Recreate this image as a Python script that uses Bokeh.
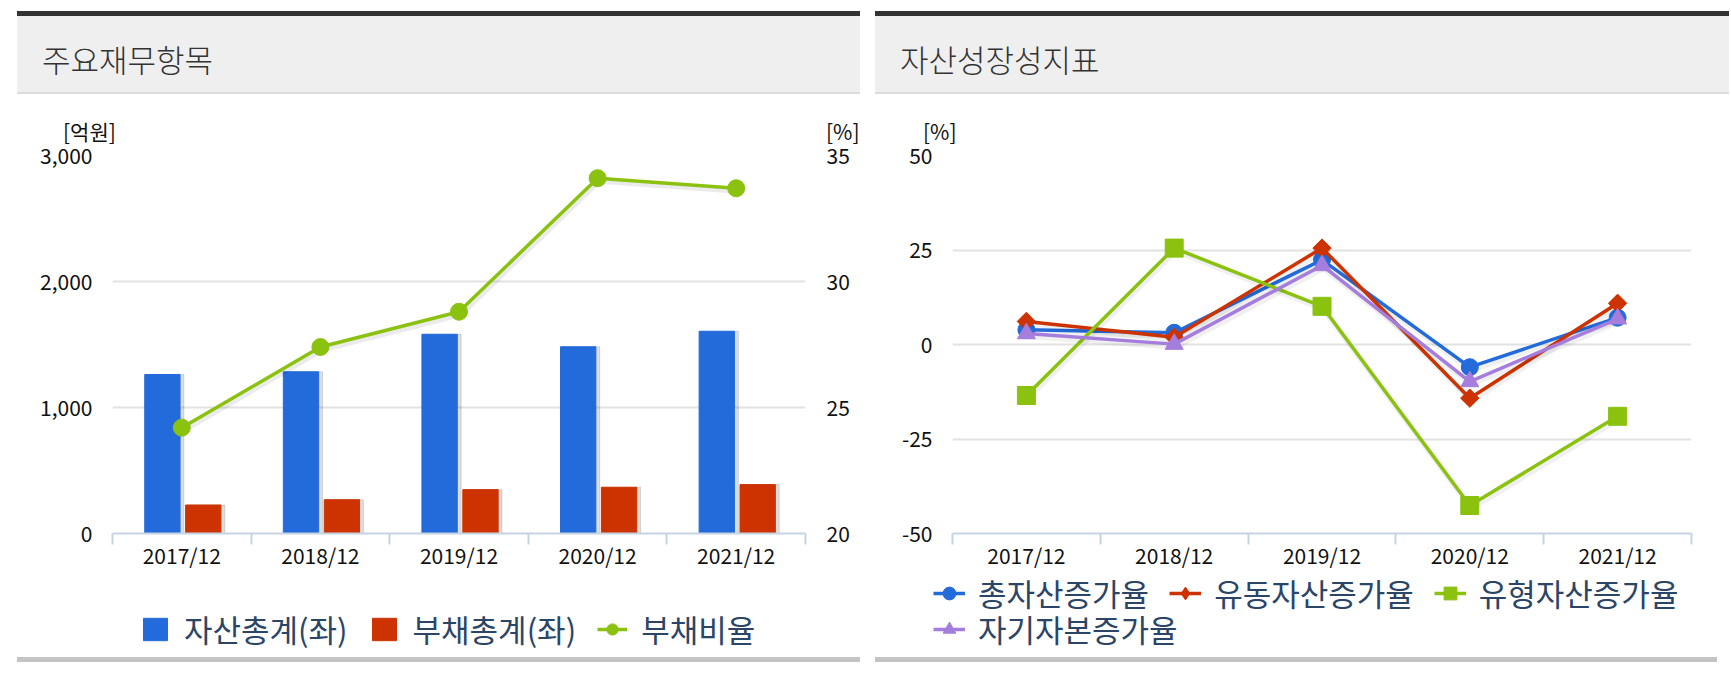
import numpy as np
from bokeh.plotting import figure
from bokeh.models import (Range1d, LinearAxis, FixedTicker, Legend, LegendItem,
                          Div, NumeralTickFormatter)
from bokeh.layouts import row, column
from bokeh.embed import file_html
from bokeh.resources import INLINE

# ---------------- data ----------------
categories = ["2017/12", "2018/12", "2019/12", "2020/12", "2021/12"]

total_assets = [1262, 1283, 1581, 1482, 1605]        # 자산총계(좌) 억원
total_liabilities = [226, 268, 348, 367, 388]        # 부채총계(좌) 억원
debt_ratio = [24.2, 27.4, 28.8, 34.1, 33.7]          # 부채비율 %

left_ticks = [0, 1000, 2000, 3000]
right_ticks = [20, 25, 30, 35]

growth_total_assets = [3.9, 3.1, 22.4, -6.0, 7.1]          # 총자산증가율
growth_current_assets = [6.1, 1.9, 25.5, -14.2, 10.9]      # 유동자산증가율
growth_tangible_assets = [-13.5, 25.5, 10.1, -42.6, -19.0]  # 유형자산증가율
growth_equity = [2.9, 0.1, 20.9, -9.8, 6.8]                # 자기자본증가율
growth_ticks = [-50, -25, 0, 25, 50]

FONT = "Noto Sans CJK KR"
BLUE, RED, GREEN, PURPLE = "#236bdb", "#cc3300", "#8bc20f", "#a57ddc"
LEG_COLOR = "#2b4566"
n = len(categories)
xc = np.arange(n) + 0.5
OUT = [-100]   # legend-only renderers sit outside the visible range
UNIT_H = 52
OVERLAP = 12


def style_common(p, yticks):
    p.outline_line_color = None
    p.border_fill_alpha = 0
    p.xgrid.visible = False
    p.ygrid.ticker = FixedTicker(ticks=yticks)
    p.ygrid.grid_line_color = "#e2e2e2"
    p.ygrid.grid_line_width = 2
    xa = p.xaxis[0]
    xa.ticker = FixedTicker(ticks=list(xc), minor_ticks=list(range(n + 1)))
    xa.major_label_overrides = {float(x): c for x, c in zip(xc, categories)}
    xa.major_tick_line_color = None
    xa.major_tick_out = 0
    xa.major_tick_in = 0
    xa.minor_tick_line_color = "#c5d3e2"
    xa.minor_tick_line_width = 2
    xa.minor_tick_out = 11
    xa.minor_tick_in = 0
    xa.axis_line_color = "#c5d3e2"
    xa.axis_line_width = 2
    xa.major_label_text_font = FONT
    xa.major_label_text_font_size = "21px"
    xa.major_label_text_color = "#111111"
    xa.major_label_standoff = -5
    ya = p.yaxis[0]
    ya.ticker = FixedTicker(ticks=yticks)
    ya.formatter = NumeralTickFormatter(format="0,0")
    ya.axis_line_color = None
    ya.major_tick_line_color = None
    ya.minor_tick_line_color = None
    ya.major_tick_out = 0
    ya.major_tick_in = 0
    ya.major_label_text_font = FONT
    ya.major_label_text_font_size = "21px"
    ya.major_label_text_color = "#111111"
    ya.major_label_standoff = 20


def make_legend(items, loc, gw, gh, standoff, spacing):
    return Legend(items=items, location=loc, orientation="horizontal",
                  glyph_width=gw, glyph_height=gh, label_standoff=standoff, spacing=spacing,
                  padding=0, margin=0, border_line_color=None, background_fill_alpha=0,
                  label_text_font=FONT, label_text_font_size="31px",
                  label_text_color=LEG_COLOR)


def legend_fig(w):
    f = figure(width=w, height=90, x_range=Range1d(0, 1), y_range=Range1d(0, 1),
               output_backend="svg", toolbar_location=None,
               x_axis_type=None, y_axis_type=None, min_border=0)
    f.outline_line_color = None
    f.border_fill_alpha = 0
    f.background_fill_alpha = 0
    return f


TOP = 155 - 94 - UNIT_H + OVERLAP

# ---------------- left chart ----------------
p1 = figure(frame_width=693, frame_height=378, x_range=Range1d(0, n), y_range=Range1d(0, 3000),
            output_backend="svg", toolbar_location=None,
            min_border_left=95, min_border_right=55, min_border_top=TOP,
            min_border_bottom=46)
style_common(p1, left_ticks)
p1.extra_y_ranges = {"pct": Range1d(20, 35)}
ax_r = LinearAxis(y_range_name="pct", ticker=FixedTicker(ticks=right_ticks),
                  axis_line_color=None, major_tick_line_color=None, minor_tick_line_color=None,
                  major_tick_out=0, major_tick_in=0, major_label_text_font=FONT,
                  major_label_text_font_size="21px", major_label_text_color="#111111",
                  major_label_standoff=21)
p1.add_layout(ax_r, "right")

bw = 0.255
off_b, off_r = -0.14, 0.155
sh = 0.018
p1.vbar(x=xc + off_b + sh, top=total_assets, width=bw + 0.02, color="#000000", alpha=0.13)
p1.vbar(x=xc + off_r + sh, top=total_liabilities, width=bw + 0.02, color="#000000", alpha=0.13)
p1.vbar(x=xc + off_b, top=total_assets, width=bw, color=BLUE)
p1.vbar(x=xc + off_r, top=total_liabilities, width=bw, color=RED)
p1.line(xc + 0.012, np.array(debt_ratio) - 0.1, y_range_name="pct", line_width=6,
        color="#000000", alpha=0.08)
p1.line(xc, debt_ratio, y_range_name="pct", line_width=3.5, color=GREEN)
p1.scatter(xc, debt_ratio, y_range_name="pct", size=17, color=GREEN)

# legend for the left chart (own strip below the chart)
l1 = legend_fig(843)
lg_a = l1.vbar(x=OUT, top=OUT, width=0.1, color=BLUE)
lg_b = l1.vbar(x=OUT, top=OUT, width=0.1, color=RED)
lg_l = l1.line(x=OUT, y=OUT, line_width=3.5, color=GREEN)
lg_s = l1.scatter(x=OUT, y=OUT, size=17, color=GREEN)
l1.add_layout(make_legend([LegendItem(label="자산총계(좌)", renderers=[lg_a]),
                           LegendItem(label="부채총계(좌)", renderers=[lg_b]),
                           LegendItem(label="부채비율", renderers=[lg_l, lg_s])],
                          (123, 6), 30, 28, 14, 21))

# ---------------- right chart ----------------
p2 = figure(frame_width=739, frame_height=378, x_range=Range1d(0, n), y_range=Range1d(-50, 50),
            output_backend="svg", toolbar_location=None,
            min_border_left=77, min_border_right=38, min_border_top=TOP,
            min_border_bottom=46)
style_common(p2, growth_ticks)

series = [
    ("총자산증가율", growth_total_assets, BLUE, "circle", 17, 0.0, "circle"),
    ("유동자산증가율", growth_current_assets, RED, "square", 13, np.pi / 4, "diamond"),
    ("유형자산증가율", growth_tangible_assets, GREEN, "square", 18, 0.0, "square"),
    ("자기자본증가율", growth_equity, PURPLE, "triangle", 18, 0.0, "triangle"),
]
l2 = legend_fig(854)
items = []
for name, vals, col, mk, sz, ang, lmk in series:
    p2.line(xc + 0.01, np.array(vals) - 0.7, line_width=6, color="#000000", alpha=0.06)
    p2.line(xc, vals, line_width=3.5, color=col)
    p2.scatter(xc, vals, marker=mk, size=sz, angle=ang, color=col)
    dl = l2.line(x=OUT, y=OUT, line_width=3.5, color=col)
    ds = l2.scatter(x=OUT, y=OUT, marker=lmk, size=sz, color=col)
    items.append(LegendItem(label=name, renderers=[dl, ds]))

l2.add_layout(make_legend(items[:3], (58, 42), 32, 36, 13, 20))
l2.add_layout(make_legend(items[3:], (58, 6), 32, 36, 13, 20))


# ---------------- page frame ----------------
def header(text, w):
    return Div(text=text, width=w, height=83, margin=0, styles={
        "box-sizing": "border-box", "background-color": "#efefef",
        "border-top": "5px solid #333333", "border-bottom": "2px solid #dddddd",
        "padding-left": "25px", "padding-top": "29px",
        "font-family": "'Noto Sans CJK KR'", "font-size": "31px", "line-height": "28px",
        "color": "#333333", "font-weight": "300"})


def unit_row(w, spans):
    html = '<div style="position:relative;width:%dpx;height:%dpx;">' % (w, UNIT_H)
    for left, t in spans:
        html += ('<span style="position:absolute;left:%dpx;top:27px;line-height:21px;'
                 'white-space:nowrap;">%s</span>' % (left, t))
    html += "</div>"
    return Div(text=html, width=w, height=UNIT_H, margin=0, styles={
        "font-family": "'Noto Sans CJK KR'", "font-size": "21px", "color": "#111111"})


def footer(w):
    return Div(text="", width=w, height=5, margin=0,
               styles={"background-color": "#c4c4c4"})


col1 = column(header("주요재무항목", 843), unit_row(843, [(46, "[억원]"), (809, "[%]")]),
              column(p1, margin=(-OVERLAP, 0, 0, 0)), column(l1, margin=(-12, 0, 0, 0)),
              footer(843), spacing=0, margin=(11, 0, 0, 17))
col2 = column(header("자산성장성지표", 854), unit_row(854, [(48, "[%]")]),
              column(p2, margin=(-OVERLAP, 0, 0, 0)), column(l2, margin=(-12, 0, 0, 0)),
              footer(842), spacing=0, margin=(11, 0, 0, 15))
page = row(col1, col2, spacing=0)

open("out.html", "w").write(file_html(page, INLINE))
